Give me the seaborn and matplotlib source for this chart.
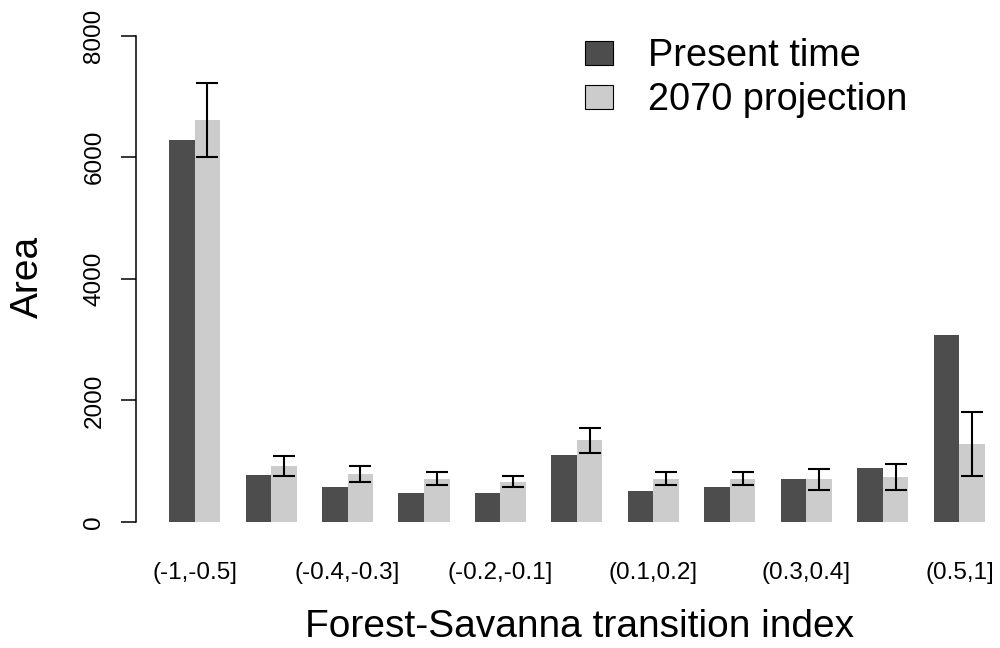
import numpy as np
import pandas as pd
import matplotlib
matplotlib.use("Agg")
import matplotlib.pyplot as plt
from matplotlib.patches import Patch
import seaborn as sns

# Data
intervals = ["(-1,-0.5]", "(-0.5,-0.4]", "(-0.4,-0.3]", "(-0.3,-0.2]", "(-0.2,-0.1]",
             "(-0.1,0.1]", "(0.1,0.2]", "(0.2,0.3]", "(0.3,0.4]", "(0.4,0.5]", "(0.5,1]"]
present = [6280, 775, 575, 477, 477, 1100, 510, 576, 707, 888, 3076]
projection = [6610, 921, 790, 707, 658, 1349, 707, 707, 707, 740, 1283]
proj_low = [6010, 760, 658, 603, 576, 1130, 603, 603, 526, 526, 762]
proj_high = [7220, 1080, 926, 817, 762, 1552, 817, 817, 872, 949, 1815]
series = ["Present time", "2070 projection"]
colors = ["#4d4d4d", "#cccccc"]
yticks = [0, 2000, 4000, 6000, 8000]

df = pd.DataFrame({
    "interval": intervals * 2,
    "area": present + projection,
    "period": [series[0]] * len(intervals) + [series[1]] * len(intervals),
})

sns.set_style("white")
plt.rcParams["font.family"] = ["Liberation Sans", "DejaVu Sans"]
plt.rcParams["text.color"] = "black"
plt.rcParams["xtick.color"] = "black"
plt.rcParams["ytick.color"] = "black"

fig = plt.figure(figsize=(10, 6.48), dpi=100)
ax = fig.add_axes([0.136, 1 - 541.5 / 648, 0.864, (541.5 - 16.2) / 648])

sns.barplot(data=df, x="interval", y="area", hue="period", order=intervals,
            hue_order=series, palette=colors, width=0.667, gap=0,
            errorbar=None, linewidth=0, legend=False, ax=ax)

# error bars on the projection bars
xs = [p.get_x() + p.get_width() / 2 for p in ax.containers[1]]
proj = np.array(projection)
yerr = [proj - np.array(proj_low), np.array(proj_high) - proj]
ax.errorbar(xs, proj, yerr=yerr, fmt="none", ecolor="black",
            elinewidth=1.5, capsize=8, capthick=1.5)

ax.set_xlim(-0.765, 10.53)
ax.set_ylim(-320, 8320)
ax.set_yticks(yticks)
ax.set_yticklabels([str(t) for t in yticks], fontsize=17.5, rotation=90, va="center")
ax.set_xticks(range(len(intervals)))
ax.set_xticklabels([lab if i % 2 == 0 else "" for i, lab in enumerate(intervals)], fontsize=17.5)
ax.tick_params(axis="x", length=0, pad=15)
ax.tick_params(axis="y", length=11, width=1.1, pad=11, direction="out", left=True)
ax.set_xlabel("")
ax.set_ylabel("")

sns.despine(ax=ax, bottom=True)
ax.spines["left"].set_bounds(0, 8000)
ax.spines["left"].set_linewidth(1.1)
ax.spines["left"].set_color("black")

fig.text(0.0275, 1 - 277 / 648, "Area", rotation=90, ha="center", va="center", fontsize=28)
fig.text(0.58, 1 - 637 / 648, "Forest-Savanna transition index", ha="center", va="baseline", fontsize=28)

handles = [Patch(facecolor=c, edgecolor="black", linewidth=0.8) for c in colors]
ax.legend(handles, series, loc="upper left", bbox_to_anchor=(0.585, 1 - 38 / 648),
          bbox_transform=fig.transFigure, frameon=False, fontsize=27.3,
          handlelength=0.74, handleheight=0.6, handletextpad=0.93,
          labelspacing=0.22, borderpad=0, borderaxespad=0)

fig.savefig("out.png", dpi=100)
